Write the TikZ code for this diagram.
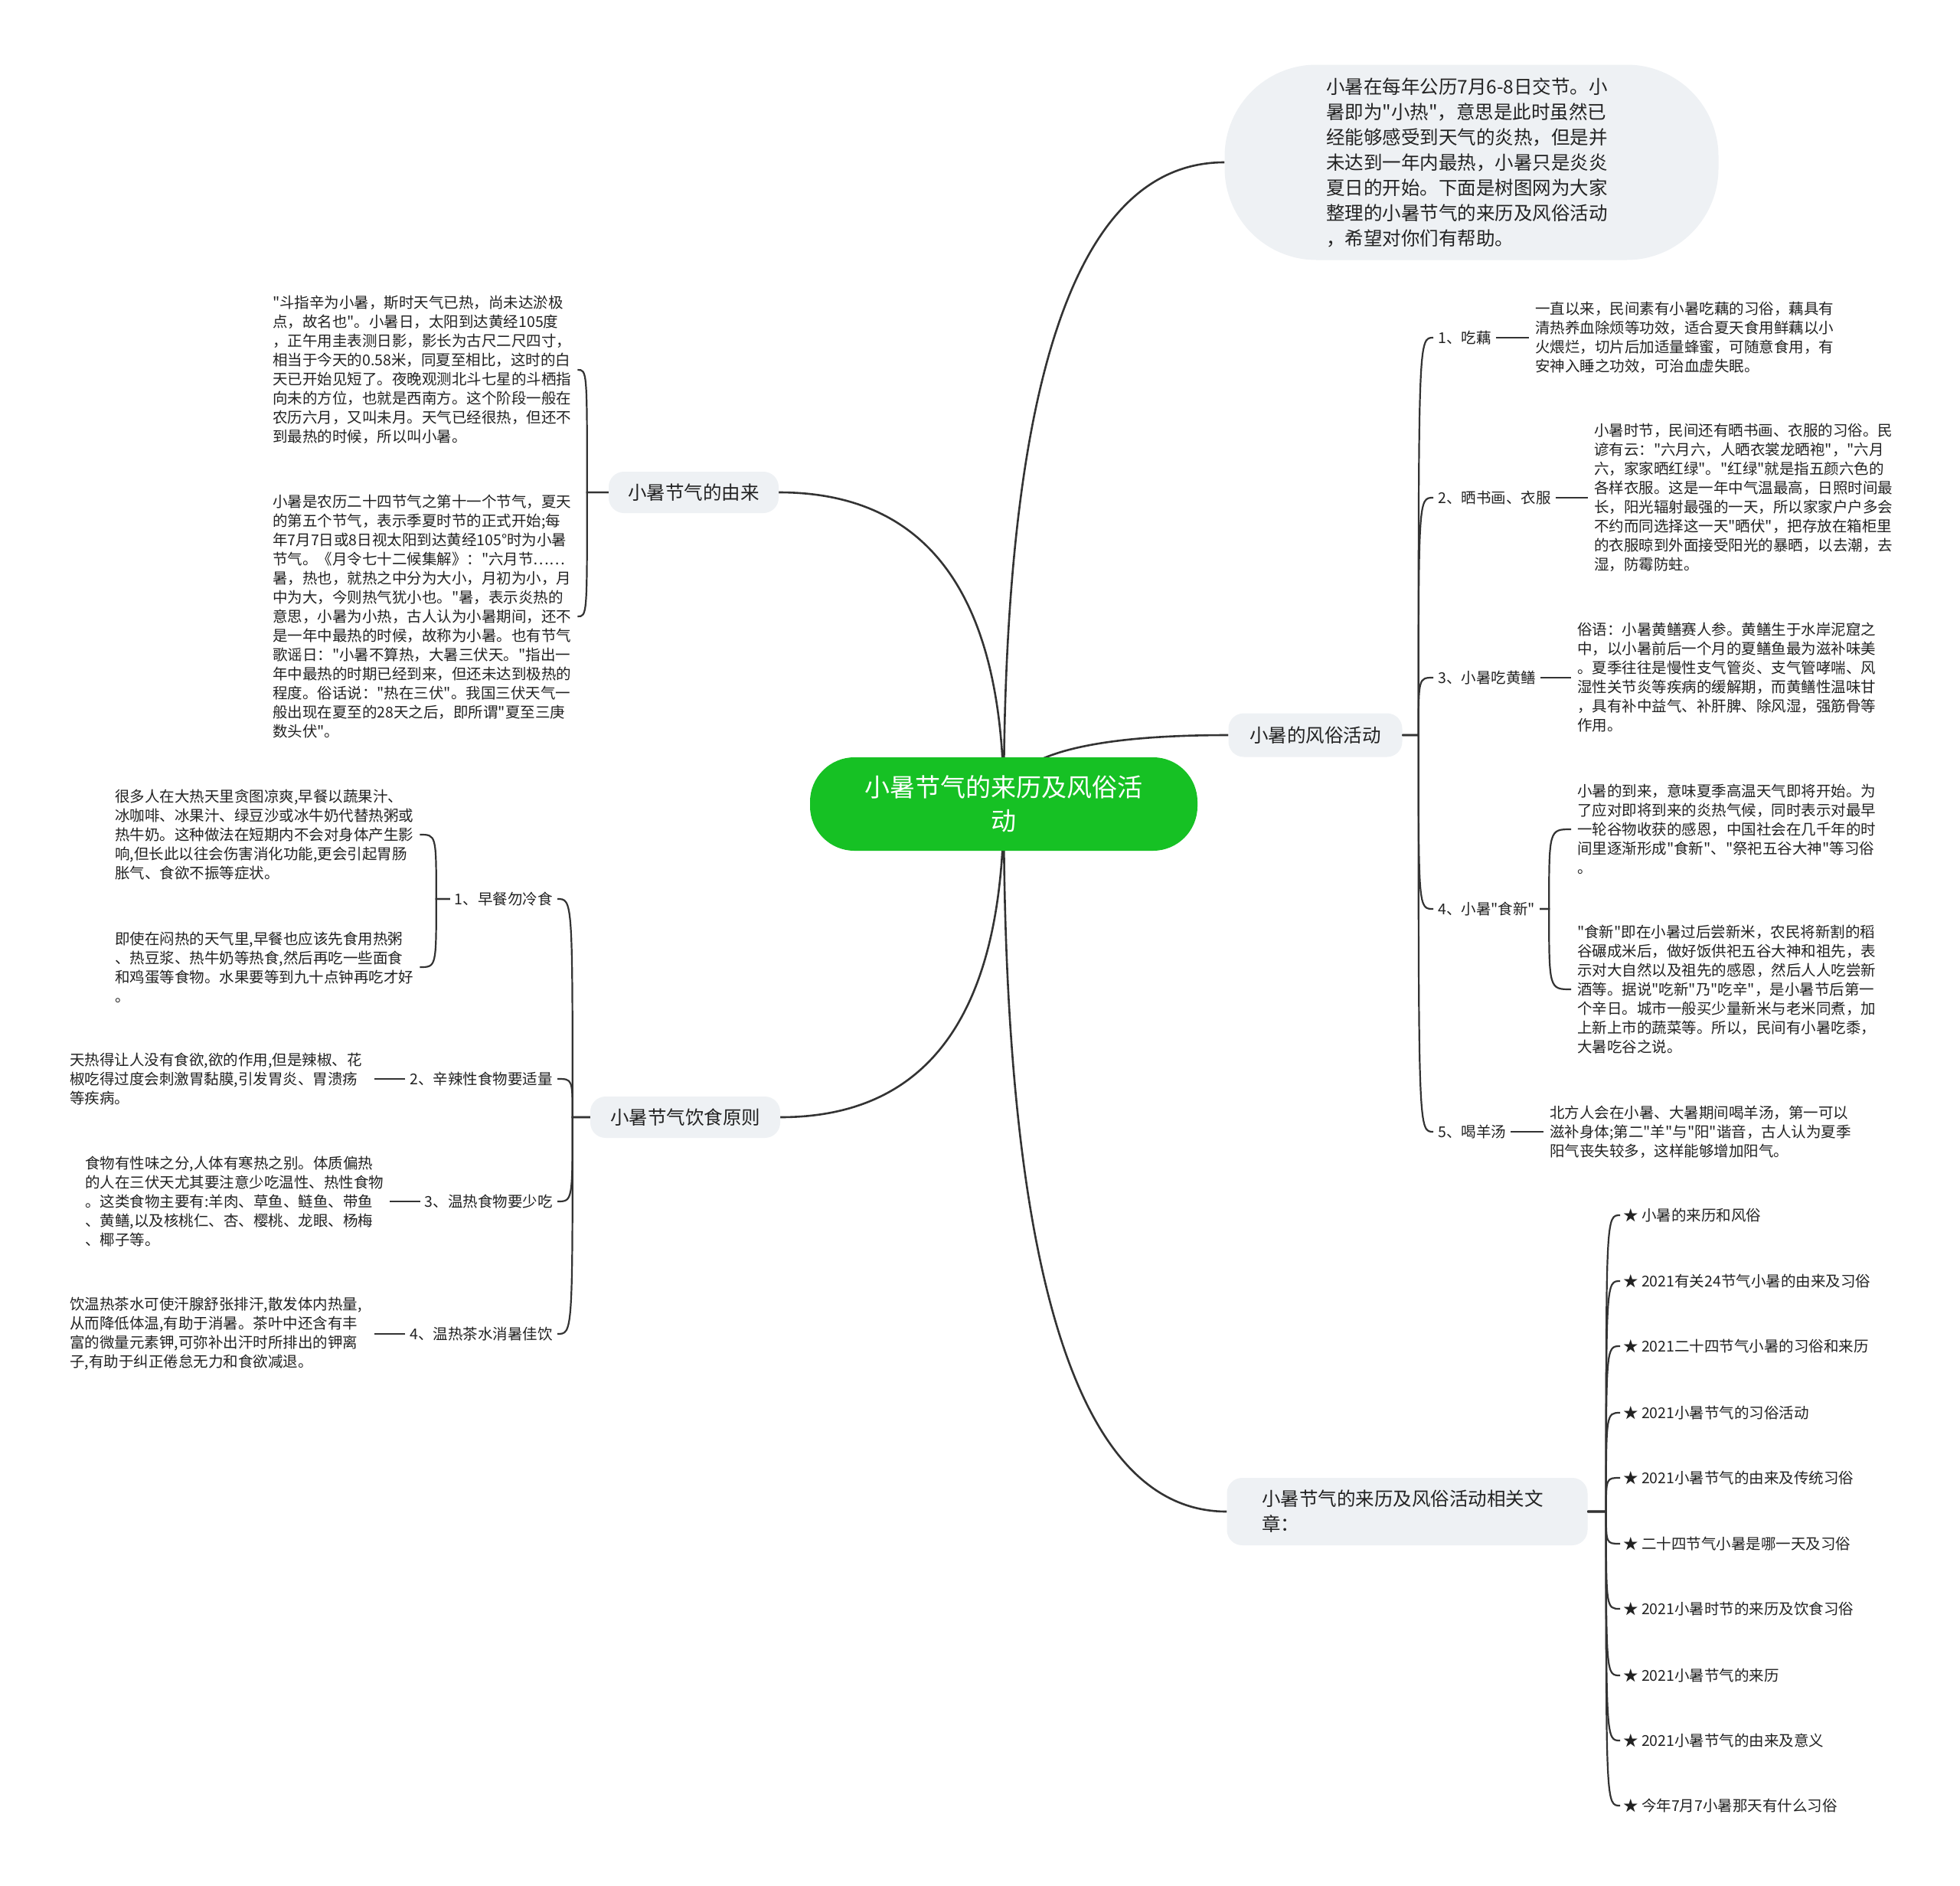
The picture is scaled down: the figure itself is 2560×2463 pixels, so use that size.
\documentclass[tikz,border=0pt]{standalone}
\usepackage{fontspec}
\setmainfont{Noto Sans CJK SC}[Ligatures=TeXOff]
\usetikzlibrary{calc,backgrounds}
\pgfdeclarelayer{bottom}
\pgfsetlayers{bottom,background,main}
\definecolor{boxgray}{HTML}{EEF1F4}
\definecolor{linecol}{HTML}{333333}
\definecolor{textcol}{HTML}{222222}
\definecolor{mmgreen}{HTML}{16C124}
\newcommand\mmcurve[2]{\draw[mainline] (#1) .. controls ($(#1)!0.6667!(#1|-#2)$) and ($(#2)!0.6667!(#1|-#2)$) .. (#2);}
\newcommand\mmkid[3]{\draw[kidline] (#1) -- (#2) .. controls (#2|-#3) .. (#3);}
\tikzset{
  mainline/.style={draw=linecol, line width=2.6pt},
  kidline/.style={draw=linecol, line width=2.2pt},
  txt/.style={font=\fontsize{19.5pt}{25pt}\selectfont, text=textcol, inner xsep=8pt, inner ysep=2pt},
  blk/.style={txt, text width=390pt, align=left, anchor=west},
  lblR/.style={txt, inner xsep=6pt, anchor=west},
  lblL/.style={txt, inner xsep=6pt, anchor=east},
  star/.style={txt, inner xsep=4pt, anchor=west},
  topic/.style={fill=boxgray, rounded corners=20pt, font=\fontsize{24.5pt}{33pt}\selectfont, text=textcol, minimum height=54pt, inner sep=0pt},
  rootnode/.style={fill=mmgreen, rounded corners=58pt, text=white, align=center, font=\fontsize{33pt}{44pt}\selectfont, minimum width=506pt, minimum height=122pt},
  bubble/.style={fill=boxgray, rounded corners=120pt, text=textcol, text width=380pt, align=left, font=\fontsize{24.5pt}{33pt}\selectfont, minimum width=645pt, minimum height=255pt, inner xsep=132pt}
}
\begin{document}
\begin{tikzpicture}[x=1pt,y=-1pt]
\begin{pgfonlayer}{bottom}
\fill[white] (0,0) rectangle (2560,2463);
\end{pgfonlayer}
\useasboundingbox (0,0) rectangle (2560,2463);

% root and level 1
\node[rootnode] (root) at (1311,1050) {小暑节气的来历及风俗活\\动};
\coordinate (c) at (1311,1050);
\node[bubble] (intro) at (1922,212) {小暑在每年公历7月6-8日交节。小\\暑即为"小热"，意思是此时虽然已\\经能够感受到天气的炎热，但是并\\未达到一年内最热，小暑只是炎炎\\夏日的开始。下面是树图网为大家\\整理的小暑节气的来历及风俗活动\\，希望对你们有帮助。};
\node[topic, minimum width=227pt, minimum height=57pt] (fengsu) at (1718,960) {小暑的风俗活动};
\node[topic, minimum width=222pt] (youlai) at (906,643) {小暑节气的由来};
\node[topic, minimum width=248pt] (yinshi) at (895,1459) {小暑节气饮食原则};
\node[topic, minimum width=471pt, minimum height=88pt, text width=380pt, align=left] (related) at (1838,1974) {小暑节气的来历及风俗活动相关文\\章：};

\begin{pgfonlayer}{background}
\mmcurve{c}{intro.west}
\mmcurve{c}{fengsu.west}
\mmcurve{c}{youlai.east}
\mmcurve{c}{yinshi.east}
\mmcurve{c}{related.west}
\end{pgfonlayer}

% 由来
\node[blk] (ylA) at (348,483) {"斗指辛为小暑，斯时天气已热，尚未达淤极\\点，故名也"。小暑日，太阳到达黄经105度\\，正午用圭表测日影，影长为古尺二尺四寸，\\相当于今天的0.58米，同夏至相比，这时的白\\天已开始见短了。夜晚观测北斗七星的斗栖指\\向未的方位，也就是西南方。这个阶段一般在\\农历六月，又叫未月。天气已经很热，但还不\\到最热的时候，所以叫小暑。};
\node[blk] (ylB) at (348,805) {小暑是农历二十四节气之第十一个节气，夏天\\的第五个节气，表示季夏时节的正式开始;每\\年7月7日或8日视太阳到达黄经105°时为小暑\\节气。《月令七十二候集解》："六月节……\\暑，热也，就热之中分为大小，月初为小，月\\中为大，今则热气犹小也。"暑，表示炎热的\\意思，小暑为小热，古人认为小暑期间，还不\\是一年中最热的时候，故称为小暑。也有节气\\歌谣日："小暑不算热，大暑三伏天。"指出一\\年中最热的时期已经到来，但还未达到极热的\\程度。俗话说："热在三伏"。我国三伏天气一\\般出现在夏至的28天之后，即所谓"夏至三庚\\数头伏"。};
\coordinate (jYL) at ($(youlai.west)+(-28,0)$);
\mmkid{youlai.west}{jYL}{ylA.east}
\mmkid{youlai.west}{jYL}{ylB.east}

% 饮食原则
\node[lblL] (y1) at (728,1174) {1、早餐勿冷食};
\node[lblL] (y2) at (728,1409) {2、辛辣性食物要适量};
\node[lblL] (y3) at (728,1569) {3、温热食物要少吃};
\node[lblL] (y4) at (728,1742) {4、温热茶水消暑佳饮};
\coordinate (jYS) at ($(yinshi.west)+(-23,0)$);
\mmkid{yinshi.west}{jYS}{y1.east}
\mmkid{yinshi.west}{jYS}{y2.east}
\mmkid{yinshi.west}{jYS}{y3.east}
\mmkid{yinshi.west}{jYS}{y4.east}

\node[blk] (y1A) at (142,1090) {很多人在大热天里贪图凉爽,早餐以蔬果汁、\\冰咖啡、冰果汁、绿豆沙或冰牛奶代替热粥或\\热牛奶。这种做法在短期内不会对身体产生影\\响,但长此以往会伤害消化功能,更会引起胃肠\\胀气、食欲不振等症状。};
\node[blk] (y1B) at (142,1263) {即使在闷热的天气里,早餐也应该先食用热粥\\、热豆浆、热牛奶等热食,然后再吃一些面食\\和鸡蛋等食物。水果要等到九十点钟再吃才好\\。};
\coordinate (jY1) at ($(y1.west)+(-18,0)$);
\mmkid{y1.west}{jY1}{y1A.east}
\mmkid{y1.west}{jY1}{y1B.east}

\node[blk] (y2T) at (83,1409) {天热得让人没有食欲,欲的作用,但是辣椒、花\\椒吃得过度会刺激胃黏膜,引发胃炎、胃溃疡\\等疾病。};
\node[blk] (y3T) at (103,1569) {食物有性味之分,人体有寒热之别。体质偏热\\的人在三伏天尤其要注意少吃温性、热性食物\\。这类食物主要有:羊肉、草鱼、鲢鱼、带鱼\\、黄鳝,以及核桃仁、杏、樱桃、龙眼、杨梅\\、椰子等。};
\node[blk] (y4T) at (83,1742) {饮温热茶水可使汗腺舒张排汗,散发体内热量,\\从而降低体温,有助于消暑。茶叶中还含有丰\\富的微量元素钾,可弥补出汗时所排出的钾离\\子,有助于纠正倦怠无力和食欲减退。};
\draw[kidline] (y2.west) -- (y2T.east);
\draw[kidline] (y3.west) -- (y3T.east);
\draw[kidline] (y4.west) -- (y4T.east);

% 风俗活动
\node[lblR] (f1) at (1872,441) {1、吃藕};
\node[lblR] (f2) at (1872,650) {2、晒书画、衣服};
\node[lblR] (f3) at (1872,885) {3、小暑吃黄鳝};
\node[lblR] (f4) at (1872,1187) {4、小暑"食新"};
\node[lblR] (f5) at (1872,1478) {5、喝羊汤};
\coordinate (jFS) at ($(fengsu.east)+(21,0)$);
\mmkid{fengsu.east}{jFS}{f1.west}
\mmkid{fengsu.east}{jFS}{f2.west}
\mmkid{fengsu.east}{jFS}{f3.west}
\mmkid{fengsu.east}{jFS}{f4.west}
\mmkid{fengsu.east}{jFS}{f5.west}

\node[blk] (f1T) at (1997,441) {一直以来，民间素有小暑吃藕的习俗，藕具有\\清热养血除烦等功效，适合夏天食用鲜藕以小\\火煨烂，切片后加适量蜂蜜，可随意食用，有\\安神入睡之功效，可治血虚失眠。};
\node[blk] (f2T) at (2074,650) {小暑时节，民间还有晒书画、衣服的习俗。民\\谚有云："六月六，人晒衣裳龙晒袍"，"六月\\六，家家晒红绿"。"红绿"就是指五颜六色的\\各样衣服。这是一年中气温最高，日照时间最\\长，阳光辐射最强的一天，所以家家户户多会\\不约而同选择这一天"晒伏"，把存放在箱柜里\\的衣服晾到外面接受阳光的暴晒，以去潮，去\\湿，防霉防蛀。};
\node[blk] (f3T) at (2052,885) {俗语：小暑黄鳝赛人参。黄鳝生于水岸泥窟之\\中，以小暑前后一个月的夏鳝鱼最为滋补味美\\。夏季往往是慢性支气管炎、支气管哮喘、风\\湿性关节炎等疾病的缓解期，而黄鳝性温味甘\\，具有补中益气、补肝脾、除风湿，强筋骨等\\作用。};
\node[blk] (f4A) at (2052,1083) {小暑的到来，意味夏季高温天气即将开始。为\\了应对即将到来的炎热气候，同时表示对最早\\一轮谷物收获的感恩，中国社会在几千年的时\\间里逐渐形成"食新"、"祭祀五谷大神"等习俗\\。};
\node[blk] (f4B) at (2052,1292) {"食新"即在小暑过后尝新米，农民将新割的稻\\谷碾成米后，做好饭供祀五谷大神和祖先，表\\示对大自然以及祖先的感恩，然后人人吃尝新\\酒等。据说"吃新"乃"吃辛"，是小暑节后第一\\个辛日。城市一般买少量新米与老米同煮，加\\上新上市的蔬菜等。所以，民间有小暑吃黍，\\大暑吃谷之说。};
\node[blk] (f5T) at (2016,1478) {北方人会在小暑、大暑期间喝羊汤，第一可以\\滋补身体;第二"羊"与"阳"谐音，古人认为夏季\\阳气丧失较多，这样能够增加阳气。};
\draw[kidline] (f1.east) -- (f1T.west);
\draw[kidline] (f2.east) -- (f2T.west);
\draw[kidline] (f3.east) -- (f3T.west);
\draw[kidline] (f5.east) -- (f5T.west);
\coordinate (jF4) at ($(f4.east)+(12,0)$);
\mmkid{f4.east}{jF4}{f4A.west}
\mmkid{f4.east}{jF4}{f4B.west}

% 相关文章
\node[star] (r1) at (2116,1587) {★ 小暑的来历和风俗};
\node[star] (r2) at (2116,1673) {★ 2021有关24节气小暑的由来及习俗};
\node[star] (r3) at (2116,1758) {★ 2021二十四节气小暑的习俗和来历};
\node[star] (r4) at (2116,1845) {★ 2021小暑节气的习俗活动};
\node[star] (r5) at (2116,1930) {★ 2021小暑节气的由来及传统习俗};
\node[star] (r6) at (2116,2016) {★ 二十四节气小暑是哪一天及习俗};
\node[star] (r7) at (2116,2101) {★ 2021小暑时节的来历及饮食习俗};
\node[star] (r8) at (2116,2188) {★ 2021小暑节气的来历};
\node[star] (r9) at (2116,2273) {★ 2021小暑节气的由来及意义};
\node[star] (r10) at (2116,2358) {★ 今年7月7小暑那天有什么习俗};
\coordinate (jR) at ($(related.east)+(24,0)$);
\foreach \k in {r1,r2,r3,r4,r5,r6,r7,r8,r9,r10}{\mmkid{related.east}{jR}{\k.west}}
\end{tikzpicture}
\end{document}
